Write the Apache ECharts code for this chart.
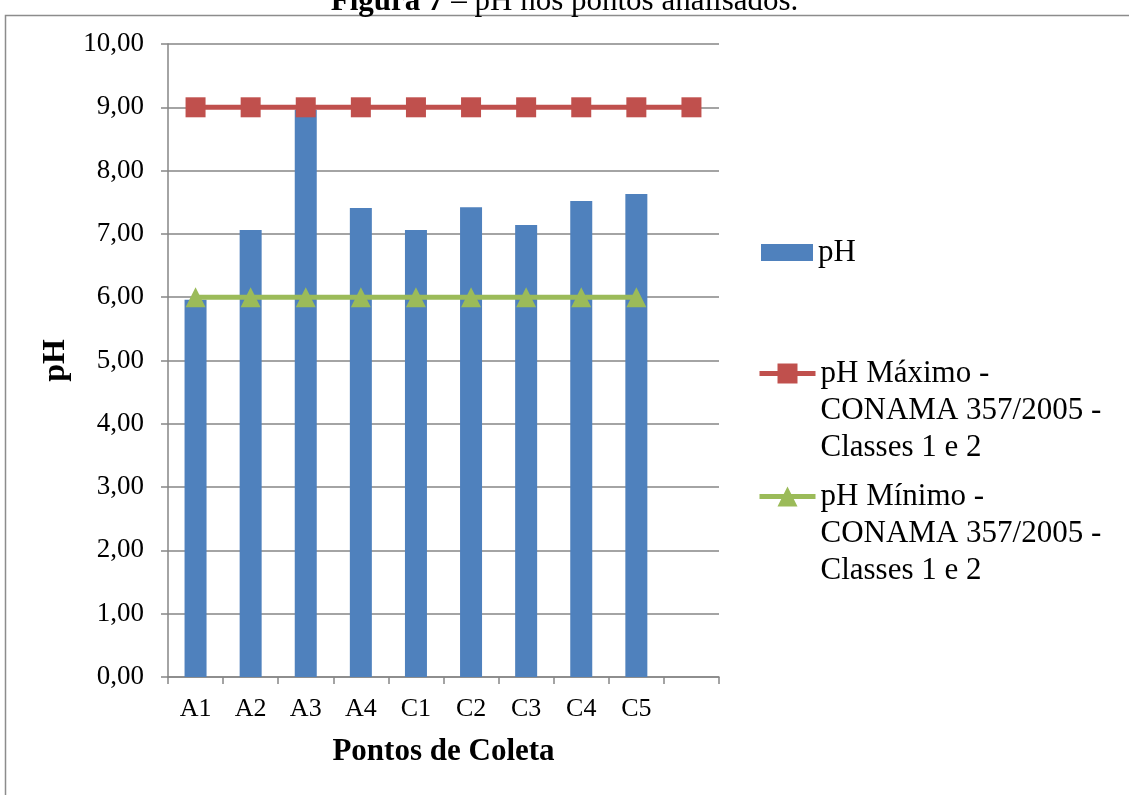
<!DOCTYPE html>
<html>
<head>
<meta charset="utf-8">
<script src="https://cdn.jsdelivr.net/npm/echarts@6/dist/echarts.min.js"></script>
<style>
  html, body { margin: 0; padding: 0; background: #fff; }
  #chart { width: 1129px; height: 795px; }
</style>
</head>
<body>
<div id="chart"></div>
<script>
// Sampling points (last slot is left empty)
const categories = ['A1', 'A2', 'A3', 'A4', 'C1', 'C2', 'C3', 'C4', 'C5', ''];
// Measured pH per point
const phValues = [5.96, 7.06, 8.96, 7.41, 7.06, 7.42, 7.14, 7.52, 7.63, null];
// CONAMA 357/2005 limits, Classes 1 e 2
const phMax = [9, 9, 9, 9, 9, 9, 9, 9, 9, 9];
const phMin = [6, 6, 6, 6, 6, 6, 6, 6, 6, null];

const seriesNames = [
  'pH',
  'pH Máximo - CONAMA 357/2005 - Classes 1 e 2',
  'pH Mínimo - CONAMA 357/2005 - Classes 1 e 2'
];
// Wrapped legend text; two leading blank lines keep the icon level with the first line
const legendLines = {
  [seriesNames[1]]: '\n\npH Máximo -\nCONAMA 357/2005 -\nClasses 1 e 2',
  [seriesNames[2]]: '\n\npH Mínimo -\nCONAMA 357/2005 -\nClasses 1 e 2'
};

const FONT = '"Liberation Serif", "Times New Roman", serif';
const AXIS_GREY = '#868686';

const chart = echarts.init(document.getElementById('chart'), null, { renderer: 'canvas' });

const legendText = {
  fontFamily: FONT,
  fontSize: 31,
  color: '#000',
  lineHeight: 37
};

chart.setOption({
  animation: false,
  backgroundColor: '#fff',
  title: {
    text: '{b|Figura 7} – pH nos pontos analisados.',
    left: 'center',
    top: -19,
    textStyle: {
      fontFamily: FONT,
      fontSize: 31,
      fontWeight: 'normal',
      color: '#000',
      rich: {
        b: { fontFamily: FONT, fontSize: 31, fontWeight: 'bold', color: '#000' }
      }
    }
  },
  graphic: [
    {
      type: 'rect',
      shape: { x: 5.5, y: 15.5, width: 1200, height: 900 },
      style: { fill: 'none', stroke: '#8c8c8c', lineWidth: 1.5 },
      z: -1
    }
  ],
  legend: [
    {
      data: [{ name: seriesNames[0], icon: 'rect' }],
      orient: 'vertical',
      left: 756,
      top: 229,
      itemWidth: 52,
      itemHeight: 17,
      itemGap: 0,
      textStyle: legendText,
      selectedMode: false
    },
    {
      data: [seriesNames[1]],
      orient: 'vertical',
      left: 752,
      top: 276,
      itemWidth: 56,
      itemHeight: 25,
      lineStyle: { width: 5 },
      textStyle: legendText,
      formatter: n => legendLines[n],
      selectedMode: false
    },
    {
      data: [seriesNames[2]],
      orient: 'vertical',
      left: 752,
      top: 399,
      itemWidth: 56,
      itemHeight: 25,
      lineStyle: { width: 5 },
      textStyle: legendText,
      formatter: n => legendLines[n],
      selectedMode: false
    }
  ],
  grid: {
    left: 168,
    right: 410,
    top: 44,
    bottom: 118,
    containLabel: false
  },
  xAxis: {
    type: 'category',
    data: categories,
    boundaryGap: true,
    name: 'Pontos de Coleta',
    nameLocation: 'middle',
    nameGap: 59,
    nameTextStyle: { fontFamily: FONT, fontSize: 31, fontWeight: 'bold', color: '#000' },
    axisLine: { lineStyle: { color: AXIS_GREY, width: 1.5 } },
    axisTick: { show: true, length: 7, alignWithLabel: false, lineStyle: { color: AXIS_GREY, width: 1.5 } },
    axisLabel: { fontFamily: FONT, fontSize: 26, color: '#000', margin: 19, interval: 0 },
    splitLine: { show: false }
  },
  yAxis: {
    type: 'value',
    min: 0,
    max: 10,
    interval: 1,
    name: 'pH',
    nameLocation: 'middle',
    nameGap: 96,
    nameRotate: 90,
    nameTextStyle: { fontFamily: FONT, fontSize: 32, fontWeight: 'bold', color: '#000' },
    axisLine: { show: true, lineStyle: { color: AXIS_GREY, width: 1.5 } },
    axisTick: { show: true, length: 7, lineStyle: { color: AXIS_GREY, width: 1.5 } },
    axisLabel: {
      fontFamily: FONT,
      fontSize: 27,
      color: '#000',
      margin: 24,
      formatter: v => v.toFixed(2).replace('.', ',')
    },
    splitLine: { show: true, lineStyle: { color: AXIS_GREY, width: 1.5 } }
  },
  series: [
    {
      name: seriesNames[0],
      type: 'bar',
      data: phValues,
      barWidth: 22,
      itemStyle: { color: '#4f81bd' },
      z: 2
    },
    {
      name: seriesNames[1],
      type: 'line',
      data: phMax,
      symbol: 'rect',
      symbolSize: 20,
      showSymbol: true,
      lineStyle: { color: '#c0504d', width: 5 },
      itemStyle: { color: '#c0504d' },
      z: 3
    },
    {
      name: seriesNames[2],
      type: 'line',
      data: phMin,
      symbol: 'triangle',
      symbolSize: 20,
      showSymbol: true,
      lineStyle: { color: '#9bbb59', width: 5 },
      itemStyle: { color: '#9bbb59' },
      z: 4
    }
  ]
});
</script>
</body>
</html>
